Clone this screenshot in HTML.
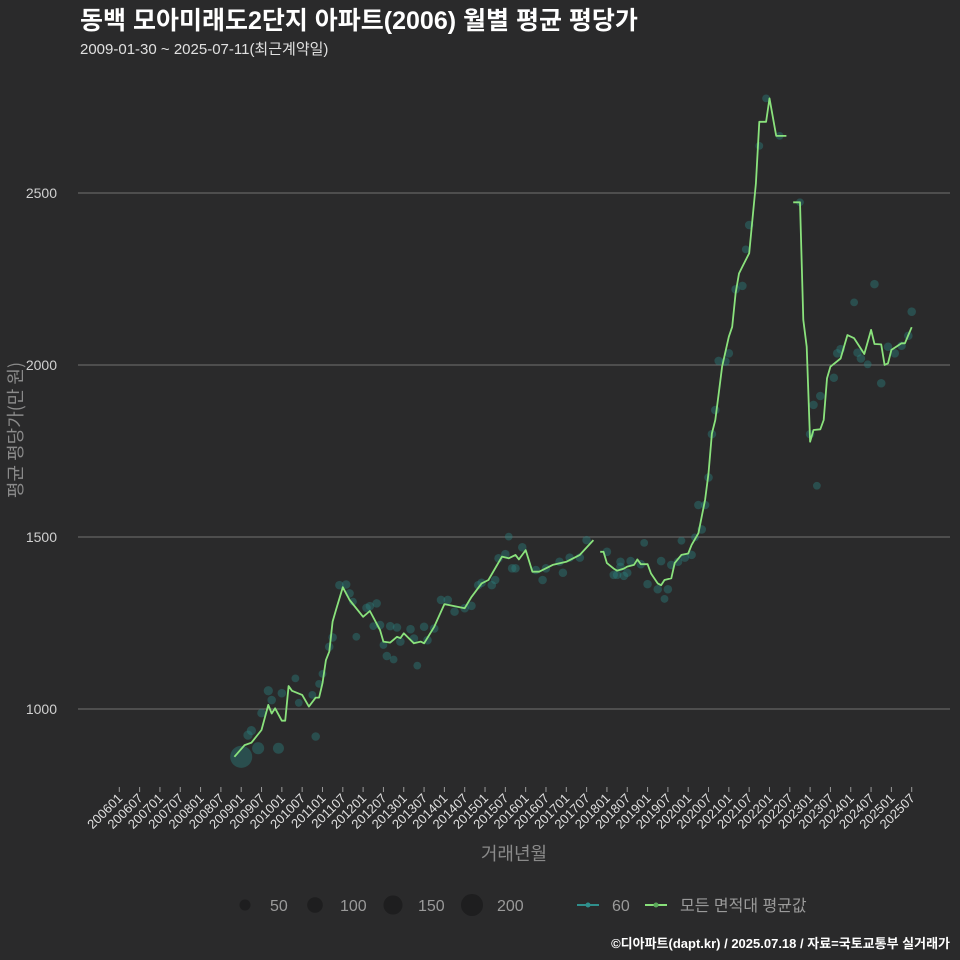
<!DOCTYPE html>
<html><head><meta charset="utf-8">
<style>
html,body{margin:0;padding:0;background:#2a2a2b;}
svg{display:block;}
text{font-family:"Liberation Sans","Noto Sans CJK KR",sans-serif;}
.kr{font-family:"Noto Sans CJK KR","Liberation Sans",sans-serif;}
</style></head>
<body>
<svg id="chart" width="960" height="960" viewBox="0 0 960 960">
<rect x="0" y="0" width="960" height="960" fill="#2a2a2b"/>
<text x="80" y="29" fill="#ffffff" font-size="25" font-weight="bold">동백 모아미래도2단지 아파트(2006) 월별 평균 평당가</text>
<text x="80" y="54" fill="#e0e0e0" font-size="15">2009-01-30 ~ 2025-07-11(최근계약일)</text>
<g id="grid"></g>
<g id="yticks"></g>
<g id="xticks"></g>
<g id="points"></g>
<g id="line"></g>
<text class="kr" x="0" y="0" transform="translate(22,430) rotate(-90)" text-anchor="middle" fill="#8a8a8a" font-size="18">평균 평당가(만 원)</text>
<text class="kr" x="514" y="860" text-anchor="middle" fill="#8a8a8a" font-size="18">거래년월</text>
<g id="legend"></g>
<text x="950" y="948" text-anchor="end" fill="#ffffff" font-size="13" font-weight="bold">©디아파트(dapt.kr) / 2025.07.18 / 자료=국토교통부 실거래가</text>
</svg>
<script>
const yTicks = [1000, 1500, 2000, 2500];
const xTickLabels = ["200601","200607","200701","200707","200801","200807","200901","200907","201001","201007","201101","201107","201201","201207","201301","201307","201401","201407","201501","201507","201601","201607","201701","201707","201801","201807","201901","201907","202001","202007","202101","202107","202201","202207","202301","202307","202401","202407","202501","202507"];
const lineMonths = ["200811","200902","200904","200907","200909","200910","200911","201001","201002","201003","201004","201007","201009","201011","201012","201101","201102","201103","201104","201105","201107","201109","201201","201203","201206","201207","201209","201211","201212","201301","201304","201306","201307","201310","201401","201407","201409","201412","201502","201506","201508","201510","201511","201601","201603","201605","201609","201701","201705","201709","201710","201711","201712","201801","201803","201804","201806","201807","201809","201810","201811","201901","201902","201904","201905","201906","201908","201909","201911","202001","202002","202004","202005","202006","202007","202008","202009","202010","202011","202101","202102","202103","202104","202105","202107","202109","202110","202112","202201","202203","202206","202207","202208","202210","202211","202212","202301","202302","202304","202305","202306","202307","202310","202312","202402","202405","202407","202408","202410","202411","202412","202501","202504","202505","202506","202507"];
const lineValues = [861,895,902,939,1012,987,1002,966,966,1067,1053,1041,1007,1033,1033,1075,1142,1167,1254,1288,1354,1317,1268,1285,1230,1196,1193,1210,1206,1220,1191,1196,1191,1239,1305,1293,1326,1365,1375,1443,1438,1448,1435,1462,1399,1399,1419,1428,1448,1491,null,1457,1457,1424,1408,1402,1408,1414,1419,1435,1421,1421,1394,1365,1360,1375,1380,1424,1448,1452,1477,1511,1559,1608,1685,1801,1840,1917,1995,2082,2111,2208,2266,2286,2325,2528,2707,2707,2775,2666,2666,null,2473,2473,2131,2053,1777,1811,1813,1840,1961,1995,2019,2087,2078,2032,2102,2061,2060,2000,2005,2044,2063,2063,2087,2110];
const pointMonths = ["200901","200906","200912","200903","200904","200907","200909","200910","201001","201005","201006","201011","201010","201012","201101","201103","201104","201106","201108","201109","201110","201111","201202","201203","201205","201204","201206","201207","201208","201209","201210","201211","201212","201303","201304","201305","201307","201308","201310","201312","201402","201404","201407","201409","201411","201412","201503","201504","201505","201507","201508","201509","201510","201512","201604","201606","201607","201611","201612","201702","201705","201707","201801","201803","201804","201805","201806","201807","201805","201808","201812","201811","201901","201905","201904","201906","201907","201908","201910","201911","201912","202002","202003","202005","202006","202004","202007","202008","202009","202010","202012","202101","202103","202105","202106","202107","202110","202112","202204","202210","202301","202302","202304","202303","202308","202309","202310","202402","202403","202404","202406","202408","202410","202412","202502","202504","202506","202507"];
const pointValues = [861,886,886,924,937,988,1053,1026,1046,1089,1018,920,1041,1073,1102,1181,1208,1360,1362,1336,1312,1210,1294,1299,1307,1241,1244,1186,1154,1241,1144,1237,1196,1232,1205,1126,1239,1200,1234,1317,1317,1283,1293,1300,1360,1367,1360,1375,1438,1450,1501,1409,1409,1470,1404,1375,1409,1428,1396,1440,1440,1491,1457,1390,1390,1413,1387,1396,1428,1430,1483,1421,1363,1430,1348,1320,1348,1419,1428,1489,1440,1448,1499,1522,1593,1593,1673,1799,1869,2012,2010,2034,2220,2230,2336,2407,2637,2775,2666,2473,1799,1884,1910,1649,1963,2034,2046,2182,2036,2019,2002,2235,1947,2053,2034,2056,2085,2155];
const pointSizes = [200,60,50,35,35,30,35,30,30,25,25,30,25,25,25,30,30,30,30,30,25,25,30,30,30,25,30,25,30,30,25,30,30,30,30,25,30,30,30,30,30,30,30,30,30,30,30,30,30,30,25,30,30,30,30,30,30,30,30,30,30,30,30,30,30,30,30,30,30,30,25,30,30,30,30,25,30,30,30,25,30,30,25,30,30,30,30,30,30,30,30,30,30,30,25,30,25,25,25,25,30,30,30,25,30,30,30,25,30,30,25,30,30,30,30,30,30,30];
const legendSizes = [50, 100, 150, 200];

const NS = "http://www.w3.org/2000/svg";
const X0 = 119.3, XSTEP = 792.4 / 234;
const PLOT_L = 78, PLOT_R = 950;
function monthIndex(s){ return (parseInt(s.slice(0,4)) - 2006) * 12 + (parseInt(s.slice(4,6)) - 1); }
function xScale(s){ return X0 + monthIndex(s) * XSTEP; }
function yScale(v){ return 709 - (v - 1000) * 0.344; }
function rScale(s){ return 0.78 * Math.sqrt(s); }
function mk(tag, attrs, parent){ const e = document.createElementNS(NS, tag); for (const k in attrs) e.setAttribute(k, attrs[k]); parent.appendChild(e); return e; }

const grid = document.getElementById('grid');
const yg = document.getElementById('yticks');
yTicks.forEach(v => {
  const l = mk('line', {x1: PLOT_L, x2: PLOT_R, y1: yScale(v), y2: yScale(v), stroke: '#727272', 'stroke-width': 1}, grid);
  
  
  const t = mk('text', {x: 57, y: yScale(v) + 5, 'text-anchor': 'end', fill: '#d0d0d0', 'font-size': 14}, yg);
  t.textContent = v;
  
  
});

const xg = document.getElementById('xticks');
xTickLabels.forEach(s => {
  const x = xScale(s);
  const tk = mk('line', {x1: x, x2: x, y1: 787, y2: 792, stroke: '#9a9a9a', 'stroke-width': 1}, xg);
  
  
  const t = mk('text', {x: 0, y: 0, 'text-anchor': 'end', fill: '#e0e0e0', 'font-size': 13, transform: 'translate(' + (x + 4) + ',799) rotate(-45)'}, xg);
  t.textContent = s;
  
  
});

const pg = document.getElementById('points');
pointMonths.forEach((m, i) => {
  const c = mk('circle', {cx: xScale(m), cy: yScale(pointValues[i]), r: rScale(pointSizes[i]), fill: '#2c807e', 'fill-opacity': 0.42}, pg);
  
  
});

const lg = document.getElementById('line');
let d = '', pen = false;
lineMonths.forEach((m, i) => {
  const v = lineValues[i];
  if (v === null) { pen = false; return; }
  d += (pen ? 'L' : 'M') + xScale(m).toFixed(1) + ',' + yScale(v).toFixed(1);
  pen = true;
});
const path = mk('path', {d: d, fill: 'none', stroke: '#8ae27c', 'stroke-width': 1.8, 'stroke-linejoin': 'round'}, lg);



const leg = document.getElementById('legend');
const legX = [245, 315, 393, 472];
legendSizes.forEach((s, i) => {
  const c = mk('circle', {cx: legX[i], cy: 905, r: rScale(s), fill: '#1e1e1f'}, leg);
  
  
  const t = mk('text', {x: legX[i] + 25, y: 911, fill: '#9a9a9a', 'font-size': 16}, leg);
  t.textContent = s;
  
  
});
const l1 = mk('line', {x1: 577, x2: 599, y1: 905, y2: 905, stroke: '#2f8f8c', 'stroke-width': 2}, leg);


const c1 = mk('circle', {cx: 588, cy: 905, r: 2.5, fill: '#2f8f8c'}, leg);


const t1 = mk('text', {x: 612, y: 911, fill: '#9a9a9a', 'font-size': 16}, leg);
t1.textContent = '60';


const l2 = mk('line', {x1: 645, x2: 667, y1: 905, y2: 905, stroke: '#88e07a', 'stroke-width': 2}, leg);


const c2 = mk('circle', {cx: 656, cy: 905, r: 2.5, fill: '#5aa85a'}, leg);


const t2 = mk('text', {x: 680, y: 911, fill: '#9a9a9a', 'font-size': 16}, leg);
t2.textContent = '모든 면적대 평균값';


</script>
</body></html>
